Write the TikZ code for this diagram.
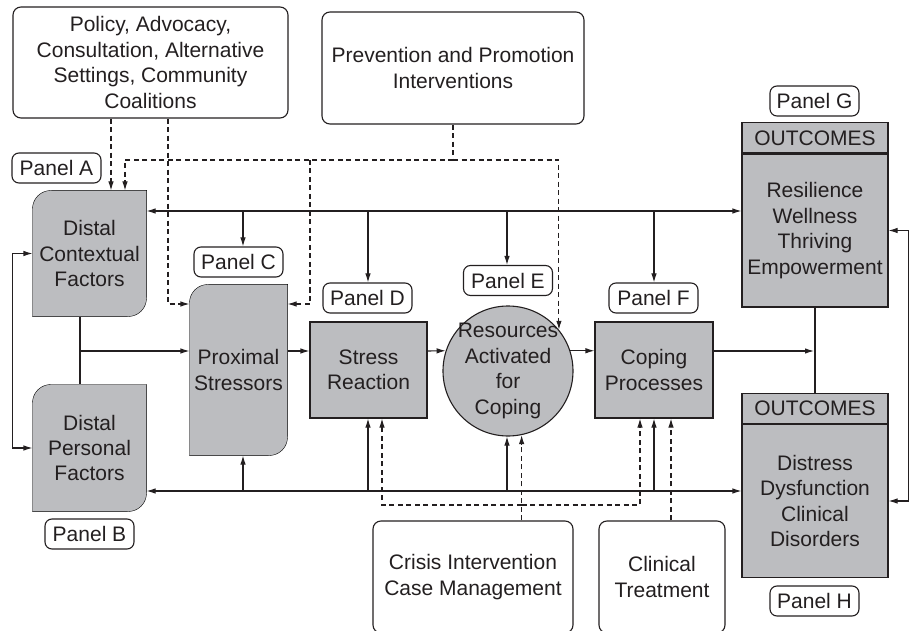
\documentclass[tikz,border=0pt]{standalone}
\usepackage{fontspec}
\setmainfont{Liberation Sans}
\usepackage{xcolor}
\usetikzlibrary{arrows.meta, positioning, backgrounds, calc}
\definecolor{boxgray}{RGB}{188,189,192}
\definecolor{ink}{RGB}{35,31,32}

\begin{document}
\begin{tikzpicture}[x=1pt, y=-1pt, line width=1.1pt, color=ink,
    font=\fontsize{21}{25.4}\selectfont,
    panel/.style={draw, rounded corners=7pt, minimum width=89pt, minimum height=30pt, inner sep=0pt},
    infobox/.style={draw, rounded corners=8pt, align=center, inner sep=0pt},
    graybox/.style={draw, fill=boxgray, align=center, inner sep=0pt},
    softbox/.style={align=center, inner sep=0pt},
    tip/.style={-{Latex[length=9pt,width=5.5pt]}},
    both/.style={{Latex[length=9pt,width=5.5pt]}-{Latex[length=9pt,width=5.5pt]}},
    dashline/.style={dash pattern=on 5pt off 3.5pt}]
    \useasboundingbox (0,0) rectangle (916,631);

    % intervention boxes
    \node[infobox, minimum width=275pt, minimum height=111pt] (policy) at (150.5,62.5)
      {Policy, Advocacy,\\Consultation, Alternative\\Settings, Community\\Coalitions};
    \node[infobox, minimum width=262pt, minimum height=112pt] (prev) at (453,68)
      {Prevention and Promotion\\Interventions};
    \node[infobox, minimum width=200pt, minimum height=112pt] (crisis) at (473,577)
      {Crisis Intervention\\Case Management};
    \node[infobox, minimum width=126pt, minimum height=112pt] (clinical) at (662,577)
      {Clinical\\Treatment};

    % model boxes
    \node[softbox, minimum width=113pt, minimum height=125pt] (dcf) at (89.5,253.5) {Distal\\Contextual\\Factors};
    \node[softbox, minimum width=113pt, minimum height=126pt] (dpf) at (89.5,448) {Distal\\Personal\\Factors};
    \node[softbox, minimum width=97pt, minimum height=170pt] (prox) at (238.5,370) {Proximal\\Stressors};
    \node[graybox, minimum width=117pt, minimum height=96pt] (stress) at (368.5,370) {Stress\\Reaction};
    \node[graybox, circle, minimum size=130pt] (res) at (508,371) {};
    \node[softbox] (restext) at (res) {Resources\\Activated\\for\\Coping};
    \node[graybox, minimum width=118pt, minimum height=96pt] (coping) at (654,370) {Coping\\Processes};

    \node[graybox, minimum width=146pt, minimum height=153pt] (outG) at (815,230.5)
      {Resilience\\Wellness\\Thriving\\Empowerment};
    \node[graybox, minimum width=146pt, minimum height=30pt, above=0pt of outG] (outGh) {OUTCOMES};
    \node[graybox, minimum width=146pt, minimum height=153pt] (outH) at (815,501)
      {Distress\\Dysfunction\\Clinical\\Disorders};
    \node[graybox, minimum width=146pt, minimum height=30pt, above=0pt of outH] (outHh) {OUTCOMES};

    \begin{scope}[on background layer]
      \foreach \b in {dcf,dpf,prox}
        \draw[fill=boxgray] (\b.south west) -- ([yshift=-19pt]\b.north west)
          .. controls ([yshift=-8pt]\b.north west) and ([xshift=8pt]\b.north west) .. ([xshift=19pt]\b.north west)
          -- (\b.north east) -- ([yshift=19pt]\b.south east)
          .. controls ([yshift=8pt]\b.south east) and ([xshift=-8pt]\b.south east) .. ([xshift=-19pt]\b.south east)
          -- cycle;
    \end{scope}

    % panel labels
    \node[panel] (panelA) at (56.5,168) {Panel A};
    \node[panel] (panelB) at (89.5,534) {Panel B};
    \node[panel] (panelC) at (238.5,262) {Panel C};
    \node[panel] (panelD) at (367.5,298) {Panel D};
    \node[panel] (panelE) at (508,280.5) {Panel E};
    \node[panel] (panelF) at (653.5,298) {Panel F};
    \node[panel] (panelG) at (814.5,101) {Panel G};
    \node[panel] (panelH) at (814.5,601) {Panel H};

    % rails and taps
    \coordinate (railT) at (0,211);
    \coordinate (railB) at (0,491);
    \coordinate (railM) at (80,351);
    \coordinate (jOut) at (814,351);
    \coordinate (xC) at (243,0);
    \coordinate (xD) at (368,0);
    \coordinate (xE) at (507,0);
    \coordinate (xF) at (654,0);

    \draw[both] (dcf.east |- railT) -- (outG.west |- railT);
    \draw[both] (dpf.east |- railB) -- (outH.west |- railB);
    \foreach \x/\p in {xC/panelC, xD/panelD, xE/panelE, xF/panelF}
      \draw[tip] (\x |- railT) -- (\x |- \p.north);
    \foreach \x/\b in {xC/prox, xD/stress, xE/res, xF/coping}
      \draw[tip] (\x |- railB) -- (\x |- \b.south);

    \draw[both] (dcf.west) -- ++(-20,0) |- (dpf.west);
    \draw (railM |- dcf.south) -- (railM |- dpf.north);
    \draw[tip] (railM) -- (prox.west |- railM);
    \draw[tip] (prox.east |- railM) -- (stress.west |- railM);
    \draw[tip] (stress.east |- railM) -- (res.162);
    \draw[tip] (res.18) -- (coping.west |- res.18);
    \draw[tip] (coping.east |- railM) -- (jOut);
    \draw (outG.south) -- (outHh.north);
    \draw[both] (outG.east) -- ++(20,0) |- (outH.east);

    % dashed intervention links
    \coordinate (dashT) at (0,160);
    \coordinate (dashC) at (0,304);
    \coordinate (dashB) at (0,505);
    \coordinate (xa) at (111,0);
    \coordinate (xb) at (168,0);
    \coordinate (xc) at (125,0);
    \coordinate (xd) at (310,0);
    \coordinate (xg) at (382,0);
    \coordinate (xh) at (640,0);
    \coordinate (xk) at (671,0);

    \draw[tip, dashline] (xa |- policy.south) -- (xa |- dcf.north);
    \draw[tip, dashline] (xb |- policy.south) |- (prox.west |- dashC);
    \draw[dashline] (prev.south) -- (prev.south |- dashT);
    \draw[tip, dashline] (prev.south |- dashT) -| (xc |- dcf.north);
    \draw[tip, dashline] (prev.south |- dashT) -| (res.39);
    \draw[tip, dashline] (xd |- dashT) |- (prox.east |- dashC);
    \draw[tip, dashline] (res.282 |- crisis.north) -- (res.282);
    \draw[tip, dashline] (res.282 |- dashB) -| (xg |- stress.south);
    \draw[tip, dashline] (res.282 |- dashB) -| (xh |- coping.south);
    \draw[tip, dashline] (xk |- clinical.north) -- (xk |- coping.south);
  \end{tikzpicture}
\end{document}
